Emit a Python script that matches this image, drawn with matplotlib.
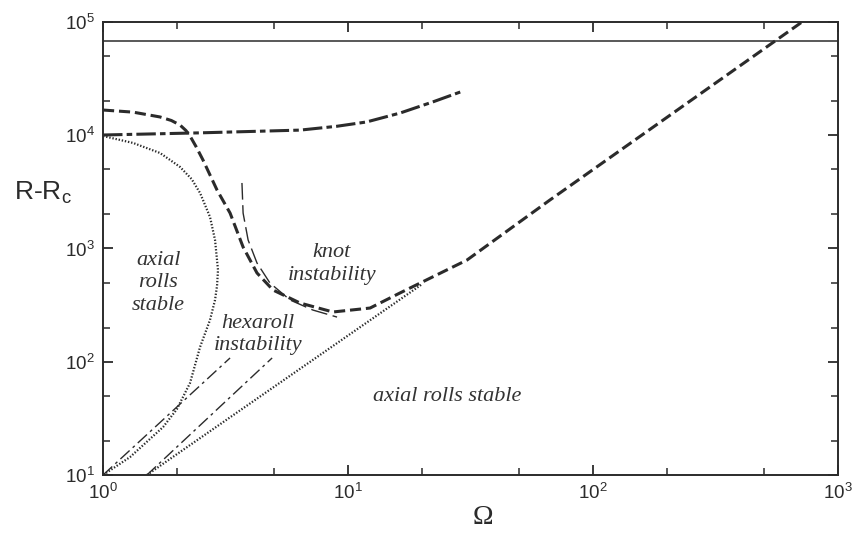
import matplotlib
matplotlib.use("Agg")
import matplotlib.pyplot as plt
from matplotlib.ticker import LogLocator, NullFormatter

plt.rcParams['font.family'] = ['Liberation Sans', 'DejaVu Sans']
plt.rcParams['lines.scale_dashes'] = False

INK = '#2b2b2b'

# heavy dashed boundary (knot instability)
knot_omega = [1.0, 1.326, 1.709, 1.90, 2.062, 2.18, 2.265, 2.40, 2.559, 2.918, 3.30,
              3.73, 4.25, 4.94, 6.37, 8.68, 12.3, 16.3, 30.6, 66.7, 713]
knot_r = [16700, 16000, 14500, 13500, 12300, 11000, 9840, 7900, 6040, 3290, 2056,
          1030, 608, 430, 330, 275, 298, 405, 791, 2680, 100000]

# dotted boundary (hexaroll instability, left lobe)
hexa_omega = [1.0, 1.326, 1.709, 2.062, 2.30, 2.489, 2.733, 2.865, 2.946, 2.92, 2.865,
              2.733, 2.489, 2.265, 2.0, 1.758, 1.289, 1.0]
hexa_r = [9840, 8550, 6970, 5250, 4100, 3090, 1897, 1189, 646, 470, 351,
          234, 135, 64.9, 38, 26.5, 14.4, 10]

# dotted straight boundary
lower_omega = [1.51, 20.0]
lower_r = [10, 482]

# heavy dash-dot curve at the top
top_omega = [1.0, 2.49, 6.37, 9.0, 11.9, 16.3, 22.2, 29.5]
top_r = [10050, 10500, 11100, 12000, 13100, 15700, 19700, 24600]

# thin long-dashed curve
thin_omega = [3.69, 3.73, 3.91, 4.25, 4.80, 5.80, 7.19, 9.02]
thin_r = [3790, 2055, 1188, 745, 496, 351, 286, 248]

# thin dash-dot asymptotes
asym_a_omega = [1.0, 3.30]
asym_a_r = [10, 108]
asym_b_omega = [1.51, 4.9]
asym_b_r = [10, 108]

# horizontal solid line
top_level = 68000

fig = plt.figure(figsize=(8.53, 5.34), dpi=100)
ax = fig.add_axes([0.1208, 0.1105, 0.8616, 0.8483])
ax.set_xscale('log')
ax.set_yscale('log')
ax.set_xlim(1, 1000)
ax.set_ylim(10, 100000)

ax.axhline(top_level, color=INK, lw=1.1)
ax.plot(knot_omega, knot_r, color=INK, lw=2.2, linestyle=(0, (8, 3.5)))
ax.plot(hexa_omega, hexa_r, color=INK, lw=1.6, linestyle=(0, (1, 1.3)))
ax.plot(lower_omega, lower_r, color=INK, lw=1.6, linestyle=(0, (1, 1.3)))
ax.plot(top_omega, top_r, color=INK, lw=2.2, linestyle=(0, (14, 3, 4, 3)))
ax.plot(thin_omega, thin_r, color=INK, lw=1.0, linestyle=(0, (12, 4)))
ax.plot(asym_a_omega, asym_a_r, color=INK, lw=1.0, linestyle=(0, (9, 3, 2, 3)))
ax.plot(asym_b_omega, asym_b_r, color=INK, lw=1.0, linestyle=(0, (9, 3, 2, 3)))

label_font = dict(family='Liberation Serif', style='italic', fontsize=16,
                  color='#333333', ha='center', va='center', linespacing=1.25)
ax.text(1.68, 496, 'axial\nrolls\nstable', **label_font)
ax.text(8.6, 730, 'knot\ninstability', **label_font)
ax.text(4.29, 174, 'hexaroll\ninstability', **label_font)
ax.text(25.4, 48.9, 'axial rolls stable', **label_font)

for side in ax.spines.values():
    side.set_linewidth(1.4)
    side.set_color(INK)

ax.xaxis.set_minor_locator(LogLocator(base=10, subs=(2, 5)))
ax.yaxis.set_minor_locator(LogLocator(base=10, subs=(2, 5)))
ax.xaxis.set_minor_formatter(NullFormatter())
ax.yaxis.set_minor_formatter(NullFormatter())
ax.tick_params(which='both', direction='in', top=True, right=True, colors=INK,
               labelsize=13.5)
ax.tick_params(which='major', length=7, width=1.3, pad=6)
ax.tick_params(which='minor', length=5, width=1.1)

fig.text(43 / 853, 1 - 193 / 534, r'R-R$_{\mathdefault{c}}$', fontsize=19,
         color=INK, ha='center', va='center')
fig.text(483 / 853, 1 - 518 / 534, '\u03a9', family='Liberation Serif',
         fontsize=20, color=INK, ha='center', va='center')

fig.savefig('out.png', dpi=100)
